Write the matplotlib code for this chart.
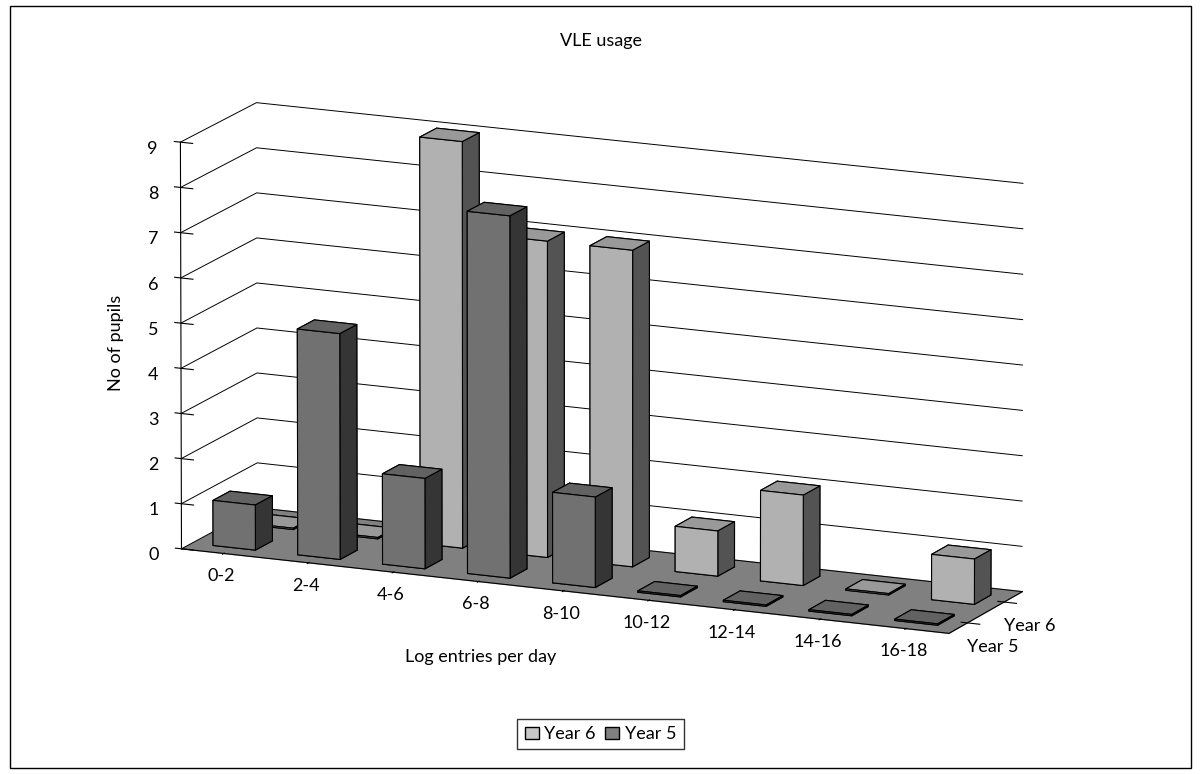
import numpy as np
import matplotlib.pyplot as plt

plt.rcParams['font.family'] = ['Lato', 'DejaVu Sans']

categories = ['0-2', '2-4', '4-6', '6-8', '8-10', '10-12', '12-14', '14-16', '16-18']
series = ['Year 5', 'Year 6']
year5 = [1, 5, 2, 8, 2, 0, 0, 0, 0]
year6 = [0, 0, 9, 7, 7, 1, 2, 0, 1]
colors = {'Year 5': '#808080', 'Year 6': '#c8c8c8'}

fig = plt.figure(figsize=(12.01, 7.74), dpi=100)
fig.patches.append(plt.Rectangle((0.008, 0.008), 0.984, 0.984, transform=fig.transFigure,
                                 fill=False, edgecolor='black', linewidth=1, zorder=10))
# big axes instead of zoom (zoom clips the outer bars)
ax = fig.add_axes([-0.18, -0.09, 1.34, 1.2], projection='3d')
ax.patch.set_alpha(0)
ax.set_proj_type('persp', focal_length=8.0)
ax.view_init(elev=14, azim=-66)

w, d = 0.5, 0.45
# back series first
for j, (name, vals) in reversed(list(enumerate(zip(series, [year5, year6])))):
    for i, v in enumerate(vals):
        h = v if v > 0 else 0.03
        ax.bar3d(i + 0.5 - w / 2, j + 0.5 - d / 2, 0, w, d, h,
                 color=colors[name], edgecolor='black', linewidth=0.8, shade=True)

ax.set_xlim(0, len(categories))
ax.set_ylim(0, 2)
ax.set_zlim(0, 9)
ax.set_box_aspect((3.2, 0.7, 1.6))
ax.zaxis._axinfo['juggled'] = (1, 2, 0)

ax.set_xticks(np.arange(len(categories)) + 0.5)
ax.set_xticklabels(categories, fontsize=13)
ax.set_yticks([0.5, 1.5])
ax.set_yticklabels(series, fontsize=13)
ax.set_zticks(range(10))
ax.set_zticklabels([str(k) for k in range(10)], fontsize=13)
ax.zaxis.set_rotate_label(False)
ax.set_zlabel('No of pupils', fontsize=13, labelpad=6, rotation=90)

ax.xaxis.set_pane_color((1, 1, 1, 1))
ax.yaxis.set_pane_color((1, 1, 1, 1))
ax.zaxis.set_pane_color((0.5, 0.5, 0.5, 1))
for a in (ax.xaxis, ax.yaxis, ax.zaxis):
    a._axinfo['grid']['color'] = 'black'
    a._axinfo['grid']['linewidth'] = 0.7
ax.xaxis._axinfo['grid']['linewidth'] = 0
ax.yaxis._axinfo['grid']['linewidth'] = 0

fig.text(0.5, 0.94, 'VLE usage', ha='center', fontsize=13)
fig.text(0.40, 0.145, 'Log entries per day', ha='center', fontsize=13)
handles = [plt.Rectangle((0, 0), 1, 1, facecolor=colors[s], edgecolor='black') for s in ['Year 6', 'Year 5']]
fig.legend(handles, ['Year 6', 'Year 5'], loc='lower center', ncol=2, fontsize=13,
           frameon=True, fancybox=False, edgecolor='black', handlelength=0.8,
           handletextpad=0.3, columnspacing=0.5, bbox_to_anchor=(0.5, 0.02))

fig.savefig('out.png', dpi=100)
